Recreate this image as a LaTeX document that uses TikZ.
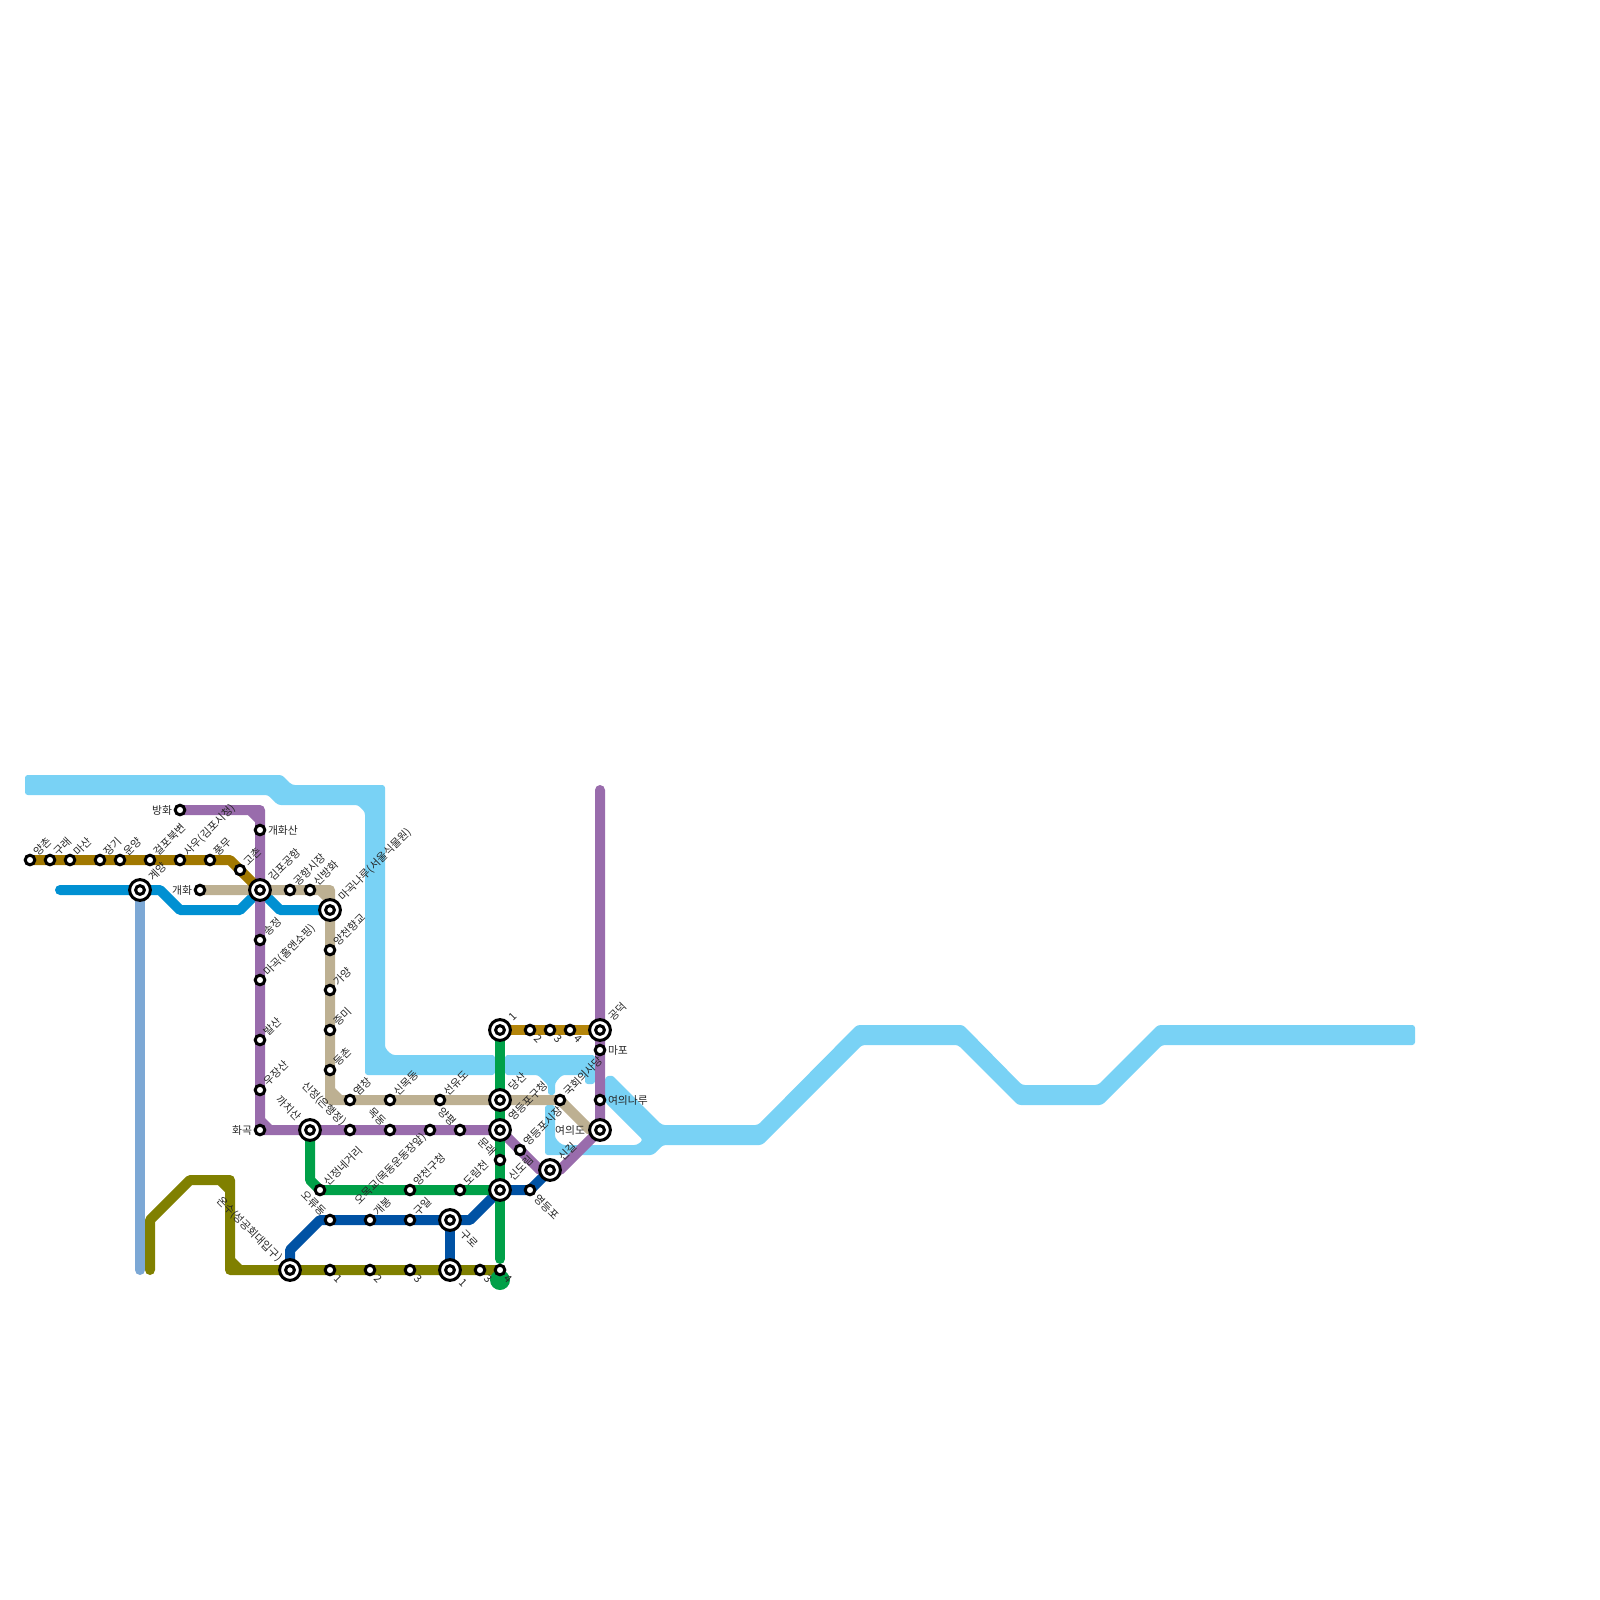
\documentclass[tikz,border=0pt]{standalone}
\usepackage{fontspec}
\newfontfamily\krfont{Noto Sans CJK KR}
\definecolor{river}{HTML}{79D2F5}
\definecolor{goldA}{HTML}{A17800}
\definecolor{goldB}{HTML}{B5860B}
\definecolor{oliveL}{HTML}{808000}
\definecolor{purpleL}{HTML}{996CAC}
\definecolor{greenL}{HTML}{00A048}
\definecolor{blueL}{HTML}{0052A4}
\definecolor{airL}{HTML}{0090D2}
\definecolor{tanL}{HTML}{BDB092}
\definecolor{skyL}{HTML}{7CA8D5}
\pgfdeclarelayer{lines}
\pgfsetlayers{lines,main}
\tikzset{
  stn/.style={circle,draw=black,fill=white,line width=1.5pt,minimum size=4.8pt,inner sep=0pt,outer sep=0pt},
  hub/.style={circle,draw=black,fill=white,line width=1.5pt,minimum size=10.4pt,inner sep=0pt,outer sep=0pt,
    path picture={\draw[line width=1.5pt] (path picture bounding box.center) circle (2.2pt);}},
  lab/.style={font=\krfont\fontsize{5.4pt}{6pt}\selectfont,text=black!85,inner sep=0pt,outer sep=0pt},
  lne/.style={lab,xshift=#1,yshift=#1,rotate=45,anchor=west},lne/.default=3pt,
  lnw/.style={lab,xshift=-#1,yshift=#1,rotate=-45,anchor=east},lnw/.default=3pt,
  lse/.style={lab,xshift=#1,yshift=-#1,rotate=-45,anchor=west},lse/.default=3.3pt,
  lsw/.style={lab,xshift=-#1,yshift=-#1,rotate=45,anchor=east},lsw/.default=2.5pt,
  leL/.style={lab,xshift=#1,anchor=west},leL/.default=4pt,
  lwL/.style={lab,xshift=-#1,anchor=east},lwL/.default=4pt,
  metro/.style={line width=5pt,line cap=round,line join=round},
  water/.style={fill=river,rounded corners=1.4pt},
}
\newcommand{\stA}[3]{\node[stn] (#1) at (#2,#3) {};}
\newcommand{\stB}[3]{\node[hub] (#1) at (#2,#3) {};}
\newcommand{\txt}[3]{\node[#2] (#1-t) at (#1) {#3};}
\newcommand{\chamf}[5]{\fill[#1] (#2,#3) -- ({#2+7*(#4)},#3) -- (#2,{#3+7*(#5)}) -- cycle;}
\begin{document}
\begin{tikzpicture}[x=0.5pt,y=-0.5pt]
\useasboundingbox (0,0) rectangle (1600,1600);
% stations
\stA{a1}{30}{860}\stA{a2}{50}{860}\stA{a3}{70}{860}\stA{a4}{100}{860}\stA{a5}{120}{860}
\stA{a6}{150}{860}\stA{a7}{180}{860}\stA{a8}{210}{860}\stA{a9}{240}{870}
\stB{gye}{140}{890}\stA{gaehwa}{200}{890}\stA{banghwa}{180}{810}\stA{gsan}{260}{830}
\stB{gimpo}{260}{890}\stA{gsj}{290}{890}\stA{sbh}{310}{890}\stB{mgn}{330}{910}
\stA{yhg}{330}{950}\stA{gy}{330}{990}\stA{jm}{330}{1030}\stA{dc}{330}{1070}
\stA{yc}{350}{1100}\stA{smd}{390}{1100}\stA{syd}{440}{1100}\stB{ds}{500}{1100}
\stA{gh}{560}{1100}\stB{yid}{600}{1130}\stA{yin}{600}{1100}\stA{mp}{600}{1050}\stB{gd}{600}{1030}
\stA{sj}{260}{940}\stA{mg}{260}{980}\stA{bs}{260}{1040}\stA{ujs}{260}{1090}\stA{hg}{260}{1130}
\stB{kcs}{310}{1130}\stA{sjg}{350}{1130}\stA{md}{390}{1130}\stA{omg}{430}{1130}\stA{yp}{460}{1130}
\stB{ydg}{500}{1130}\stA{ydm}{520}{1150}\stB{sg}{550}{1170}\stA{ml}{500}{1160}
\stB{sdr}{500}{1190}\stA{drc}{460}{1190}\stA{ycg}{410}{1190}\stA{snk}{320}{1190}
\stA{ord}{330}{1220}\stA{gb}{370}{1220}\stA{gi}{410}{1220}\stB{gr}{450}{1220}\stA{ydp}{530}{1190}
\stB{os}{290}{1270}\stA{n1}{330}{1270}\stA{n2}{370}{1270}\stA{n3}{410}{1270}\stB{n4}{450}{1270}
\stA{n5}{480}{1270}\stA{n6}{500}{1270}
\stB{t1}{500}{1030}\stA{t2}{530}{1030}\stA{t3}{550}{1030}\stA{t4}{570}{1030}
% labels
\txt{a1}{lne}{양촌}\txt{a2}{lne}{구래}\txt{a3}{lne}{마산}\txt{a4}{lne}{장기}\txt{a5}{lne}{운양}
\txt{a6}{lne}{걸포북변}\txt{a7}{lne}{사우(김포시청)}\txt{a8}{lne}{풍무}\txt{a9}{lne}{고촌}
\txt{gye}{lne=5.5pt}{계양}\txt{gaehwa}{lwL}{개화}\txt{banghwa}{lwL}{방화}\txt{gsan}{leL}{개화산}
\txt{gimpo}{lne=5.5pt}{김포공항}\txt{gsj}{lne}{공항시장}\txt{sbh}{lne}{신방화}\txt{mgn}{lne=5.5pt}{마곡나루(서울식물원)}
\txt{yhg}{lne}{양천향교}\txt{gy}{lne}{가양}\txt{jm}{lne}{증미}\txt{dc}{lne}{등촌}
\txt{yc}{lne}{염창}\txt{smd}{lne}{신목동}\txt{syd}{lne}{선유도}\txt{ds}{lne=5.5pt}{당산}
\txt{gh}{lne}{국회의사당}\txt{yid}{lwL=7.5pt}{여의도}\txt{yin}{leL}{여의나루}\txt{mp}{leL}{마포}\txt{gd}{lne=5.5pt}{공덕}
\txt{sj}{lne}{송정}\txt{mg}{lne}{마곡(홈앤쇼핑)}\txt{bs}{lne}{발산}\txt{ujs}{lne}{우장산}\txt{hg}{lwL}{화곡}
\txt{kcs}{lnw=5.5pt}{까치산}\txt{sjg}{lnw}{신정(은행정)}\txt{md}{lnw}{목동}\txt{omg}{lsw}{오목교(목동운동장앞)}\txt{yp}{lnw}{양평}
\txt{ydg}{lne=5.5pt}{영등포구청}\txt{ydm}{lne}{영등포시장}\txt{sg}{lne=5.5pt}{신길}\txt{ml}{lnw}{문래}
\txt{sdr}{lne=5.5pt}{신도림}\txt{drc}{lne}{도림천}\txt{ycg}{lne}{양천구청}\txt{snk}{lne}{신정네거리}
\txt{ord}{lnw}{오류동}\txt{gb}{lne}{개봉}\txt{gi}{lne}{구일}\txt{gr}{lse=6pt}{구로}\txt{ydp}{lse}{영등포}
\txt{os}{lnw=5pt}{온수(성공회대입구)}\txt{n1}{lse}{1}\txt{n2}{lse}{2}\txt{n3}{lse}{3}\txt{n4}{lse=5.5pt}{1}
\txt{n5}{lse}{3}\txt{n6}{lse}{4}
\txt{t1}{lne=5.5pt}{1}\txt{t2}{lse}{2}\txt{t3}{lse}{3}\txt{t4}{lse}{4}
% free points
\coordinate (skyEnd) at (140,1270);
\coordinate (oStart) at (150,1270);\coordinate (o1) at (150,1220);\coordinate (o2) at (190,1180);
\coordinate (o3) at (230,1180);\coordinate (o4) at (230,1270);
\coordinate (bStart) at (290,1250);\coordinate (b1) at (320,1220);\coordinate (b2) at (470,1220);
\coordinate (airStart) at (60,890);\coordinate (c1) at (160,890);\coordinate (c2) at (180,910);
\coordinate (c3) at (240,910);\coordinate (c4) at (280,910);
\coordinate (tn1) at (330,890);\coordinate (tn2) at (330,1100);\coordinate (tn3) at (590,1130);
\coordinate (p0) at (260,810);\coordinate (p1) at (260,1130);\coordinate (p2) at (540,1170);
\coordinate (p3) at (560,1170);\coordinate (pTop) at (600,790);
\coordinate (g0) at (310,1180);\coordinate (gEnd) at (500,1259);
\coordinate (ga1) at (230,860);
\begin{pgfonlayer}{lines}
% river
\path[water] (25,775) -- (282,775) -- (292,785) -- (385,785) -- (385,1048) -- (392,1055) -- (495,1055) -- (495,1075) -- (365,1075) -- (365,812) -- (358,805) -- (278,805) -- (268,795) -- (25,795) -- cycle;
\path[water] (505,1055) -- (595,1055) -- (595,1084) -- (585,1084) -- (585,1075) -- (562,1075) -- (555,1083) -- (555,1095) -- (548,1095) -- (548,1085) -- (538,1075) -- (505,1075) -- cycle;
\path[water] (545,1105) -- (555,1105) -- (555,1138) -- (562,1145) -- (637,1145) -- (643,1140) -- (605,1102) -- (605,1077) -- (612,1075) -- (662,1125) -- (758,1125) -- (857,1025) -- (963,1025) -- (1022,1085) -- (1098,1085) -- (1158,1025) -- (1415,1025) -- (1415,1045) -- (1162,1045) -- (1102,1105) -- (1018,1105) -- (958,1045) -- (862,1045) -- (762,1145) -- (663,1145) -- (653,1155) -- (545,1155) -- cycle;
% lines
\draw[metro,skyL] (gye.center) -- (skyEnd);
\draw[metro,oliveL] (oStart) -- (o1) -- (o2) -- (o3) -- (o4) -- (os.center) -- (n1.center) -- (n2.center) -- (n3.center) -- (n4.center) -- (n5.center) -- (n6.center);
\chamf{oliveL}{225}{1185}{-1}{1}\chamf{oliveL}{235}{1265}{1}{-1}
\draw[metro,blueL] (os.center) -- (bStart) -- (b1) -- (ord.center) -- (gb.center) -- (gi.center) -- (gr.center) -- (b2) -- (sdr.center) -- (ydp.center) -- (sg.center);
\draw[metro,blueL] (gr.center) -- (n4.center);
\draw[metro,airL] (airStart) -- (gye.center) -- (c1) -- (c2) -- (c3) -- (gimpo.center) -- (c4) -- (mgn.center);
\draw[metro,tanL] (gaehwa.center) -- (gimpo.center) -- (gsj.center) -- (sbh.center) -- (tn1) -- (mgn.center) -- (yhg.center) -- (gy.center) -- (jm.center) -- (dc.center) -- (tn2) -- (yc.center) -- (smd.center) -- (syd.center) -- (ds.center) -- (gh.center) -- (tn3) -- (yid.center);
\chamf{tanL}{325}{895}{-1}{1}\chamf{tanL}{335}{1095}{1}{-1}
\draw[metro,purpleL] (banghwa.center) -- (p0) -- (gsan.center) -- (gimpo.center) -- (sj.center) -- (mg.center) -- (bs.center) -- (ujs.center) -- (hg.center) -- (kcs.center) -- (sjg.center) -- (md.center) -- (omg.center) -- (yp.center) -- (ydg.center) -- (ydm.center) -- (p2) -- (sg.center) -- (p3) -- (yid.center) -- (yin.center) -- (mp.center) -- (gd.center) -- (pTop);
\chamf{purpleL}{255}{815}{-1}{1}\chamf{purpleL}{265}{1125}{1}{-1}
\draw[metro,goldA] (a1.center) -- (a2.center) -- (a3.center) -- (a4.center) -- (a5.center) -- (a6.center) -- (a7.center) -- (a8.center) -- (ga1) -- (a9.center) -- (gimpo.center);
\draw[metro,goldB] (t1.center) -- (t2.center) -- (t3.center) -- (t4.center) -- (gd.center);
\draw[metro,greenL] (kcs.center) -- (g0) -- (snk.center) -- (ycg.center) -- (drc.center) -- (sdr.center);
\draw[metro,greenL] (t1.center) -- (ds.center) -- (ydg.center) -- (ml.center) -- (sdr.center) -- (gEnd);
\fill[greenL] (500,1280) circle (5pt);
\end{pgfonlayer}
\end{tikzpicture}
\end{document}
